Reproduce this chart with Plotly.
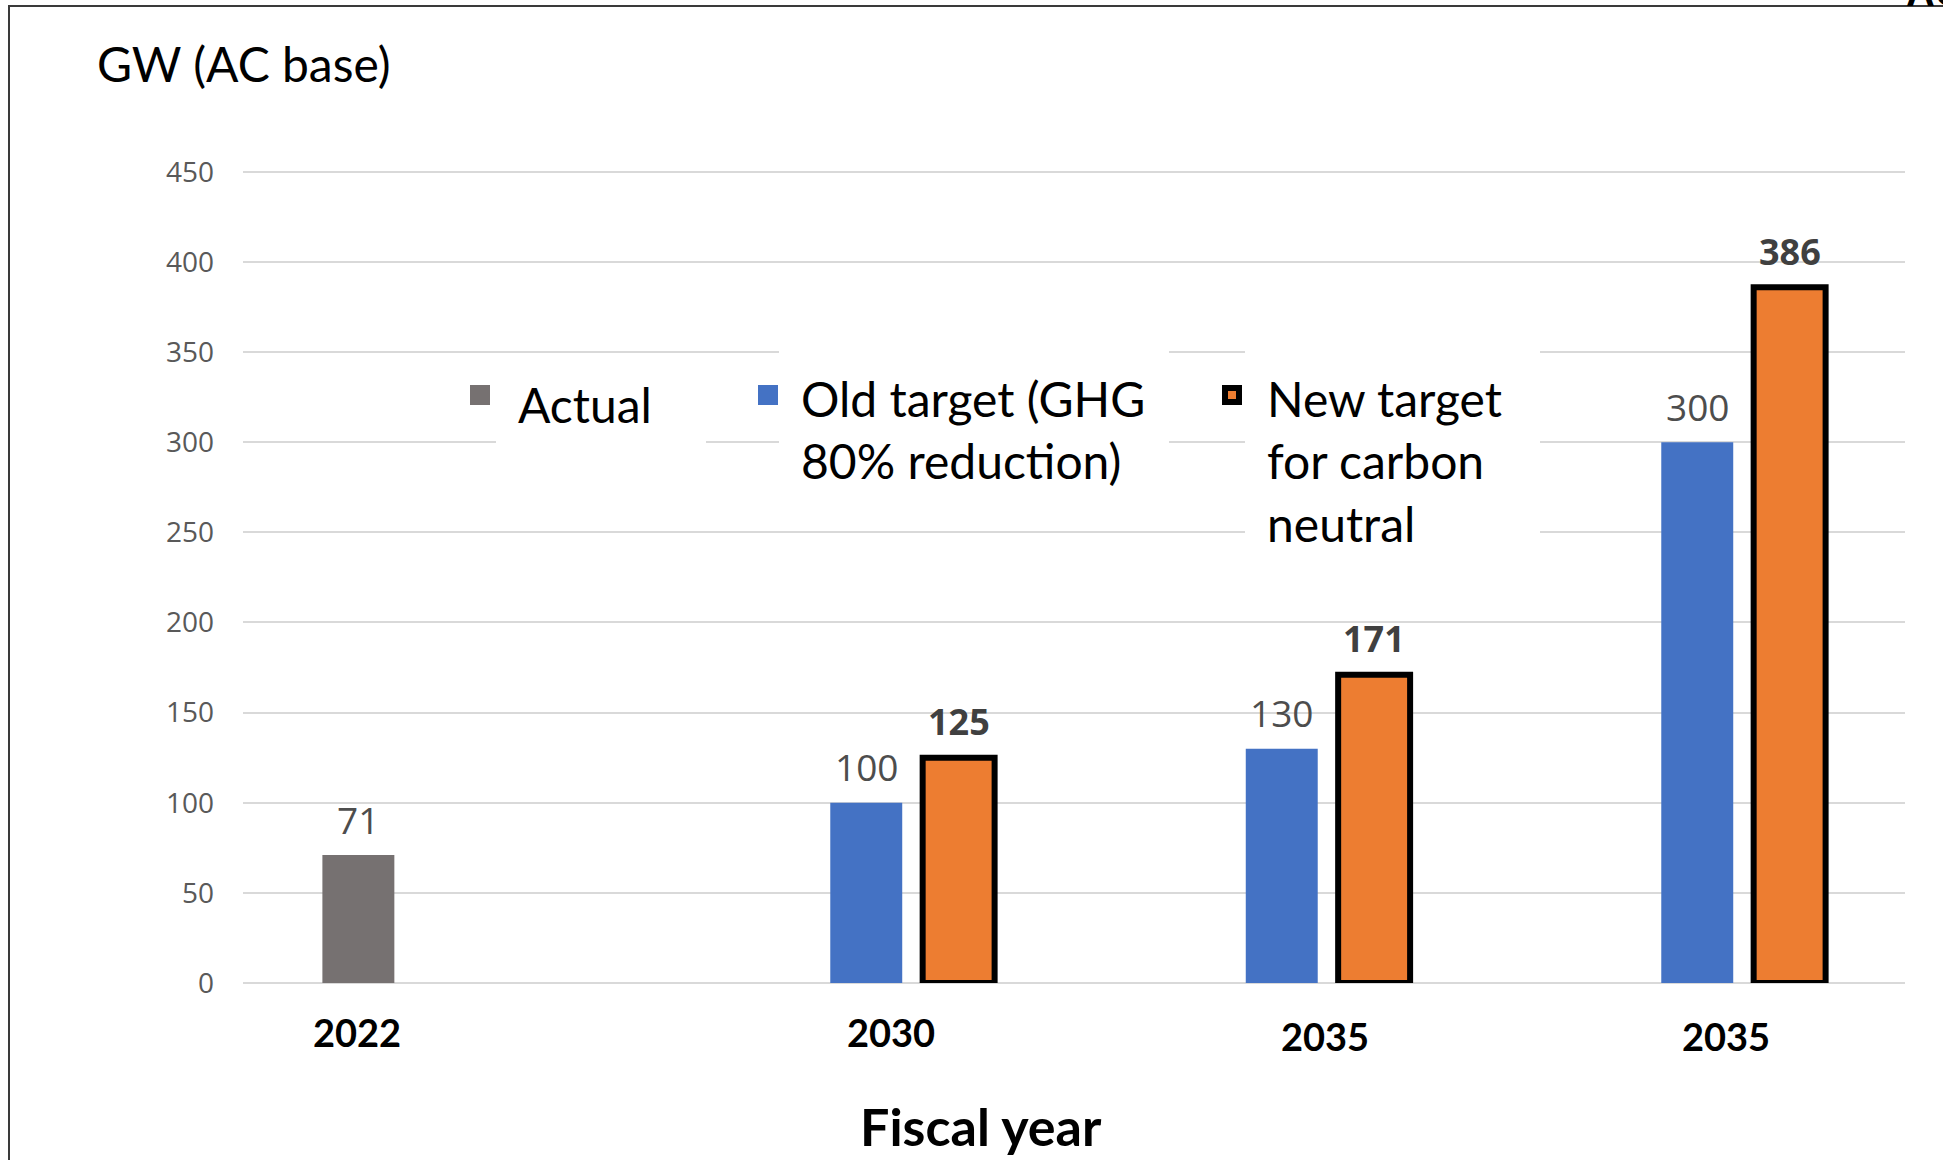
import plotly.graph_objects as go

# ---- data ----
years = ["2022", "2030", "2035", "2035"]
actual = [71, None, None, None]
old_target = [None, 100, 130, 300]
new_target = [None, 125, 171, 386]
series_names = [
    "Actual",
    "Old target (GHG<br>80% reduction)",
    "New target<br>for carbon<br>neutral",
]
y_ticks = [0, 50, 100, 150, 200, 250, 300, 350, 400, 450]

# ---- geometry (pixels on the canvas) ----
W, H = 1943, 1160
L, R, T, B = 243, 1905, 170, 983
Y_MAX = 451

BARGAP = 0.333
GROUPGAP = 0.221
SLOT = (1 - BARGAP) / 3

GREY = "#767171"
BLUE = "#4472C4"
ORANGE = "#ED7D31"
GRID = "#d9d9d9"

TEXT_FONT = "Lato, 'Open Sans', sans-serif"
NUM_FONT = "'Open Sans', 'Noto Sans', sans-serif"


def px_x(p):
    return (p - L) / (R - L)


def px_y(p):
    return (B - p) / (B - T)


x = list(range(len(years)))

fig = go.Figure()
fig.add_bar(x=x, y=actual, name="Actual", marker=dict(color=GREY, line=dict(width=0)))
fig.add_bar(x=x, y=old_target, name="Old target", marker=dict(color=BLUE, line=dict(width=0)))
fig.add_bar(x=x, y=new_target, name="New target",
            marker=dict(color=ORANGE, line=dict(color="black", width=6)))

annotations = []

# value labels above each bar
for s, values in enumerate([actual, old_target, new_target]):
    bold = s == 2
    for i, v in enumerate(values):
        if v is None:
            continue
        annotations.append(dict(
            x=i + (s - 1) * SLOT, y=v, xref="x", yref="y",
            text=f"<b>{v}</b>" if bold else str(v),
            showarrow=False, xanchor="center", yanchor="middle", yshift=36,
            font=dict(family=NUM_FONT, size=36 if bold else 37,
                      color="#404040" if bold else "#4d4d4d"),
        ))

# year labels under the groups
year_label_px = [(357, 1032), (891, 1032), (1325, 1036), (1726, 1036)]
for lab, (lx, ly) in zip(years, year_label_px):
    annotations.append(dict(
        x=px_x(lx), y=px_y(ly), xref="paper", yref="paper",
        text=f"<b>{lab}</b>", showarrow=False, xanchor="center", yanchor="middle",
        font=dict(family=TEXT_FONT, size=38, color="black"),
    ))

# axis titles
annotations.append(dict(
    x=px_x(981), y=px_y(1126), xref="paper", yref="paper",
    text="<b>Fiscal year</b>", showarrow=False, xanchor="center", yanchor="middle",
    font=dict(family=TEXT_FONT, size=52, color="black"),
))
annotations.append(dict(
    x=px_x(95), y=px_y(64), xref="paper", yref="paper",
    text="GW (AC base)", showarrow=False, xanchor="left", yanchor="middle",
    font=dict(family=TEXT_FONT, size=48, color="black"),
))
annotations.append(dict(
    x=px_x(1904), y=px_y(16), xref="paper", yref="paper",
    text="<b>AC</b>", showarrow=False, xanchor="left", yanchor="bottom",
    font=dict(family="'Liberation Sans', Arial, sans-serif", size=40, color="black"),
))

# legend: white panels, swatches and labels
shapes = []
legend_boxes = [(496, 368, 706, 462), (779, 345, 1169, 498), (1245, 345, 1540, 562)]
for x0, y0, x1, y1 in legend_boxes:
    shapes.append(dict(type="rect", xref="paper", yref="paper",
                       x0=px_x(x0), x1=px_x(x1), y0=px_y(y1), y1=px_y(y0),
                       fillcolor="white", line=dict(width=0), layer="above"))

swatch_centers = [(480, 395), (768, 395), (1232, 395)]
for k, (cx, cy) in enumerate(swatch_centers):
    if k < 2:
        half = 10
        shapes.append(dict(type="rect", xref="paper", yref="paper",
                           x0=px_x(cx - half), x1=px_x(cx + half),
                           y0=px_y(cy + half), y1=px_y(cy - half),
                           fillcolor=[GREY, BLUE][k], line=dict(width=0), layer="above"))
    else:
        half = 7
        shapes.append(dict(type="rect", xref="paper", yref="paper",
                           x0=px_x(cx - half), x1=px_x(cx + half),
                           y0=px_y(cy + half), y1=px_y(cy - half),
                           fillcolor=ORANGE, line=dict(color="black", width=6), layer="above"))

legend_text_px = [(516, 404, "middle"), (799, 368, "top"), (1265, 368, "top")]
for name, (tx, ty, anchor) in zip(series_names, legend_text_px):
    annotations.append(dict(
        x=px_x(tx), y=px_y(ty), xref="paper", yref="paper",
        text=name, showarrow=False, xanchor="left", yanchor=anchor, align="left",
        font=dict(family=TEXT_FONT, size=48, color="black"),
    ))

# outer frame of the figure
shapes.append(dict(type="rect", xref="paper", yref="paper",
                   x0=px_x(9), x1=px_x(2100), y0=px_y(1300), y1=px_y(6),
                   fillcolor="rgba(0,0,0,0)", line=dict(color="#3a3a3a", width=2),
                   layer="above"))

fig.update_layout(
    width=W, height=H,
    margin=dict(l=L, r=W - R, t=T, b=H - B, pad=0),
    paper_bgcolor="white", plot_bgcolor="white",
    barmode="group", bargap=BARGAP, bargroupgap=GROUPGAP,
    showlegend=False,
    annotations=annotations, shapes=shapes,
    xaxis=dict(range=[-0.5, len(years) - 0.5], showticklabels=False, showgrid=False,
               zeroline=False, showline=False, ticks="", fixedrange=True),
    yaxis=dict(range=[0, Y_MAX], tickvals=y_ticks, showgrid=True, gridcolor=GRID, gridwidth=2,
               zeroline=True, zerolinecolor=GRID, zerolinewidth=2, showline=False,
               ticks="", ticklabelstandoff=28,
               tickfont=dict(family=NUM_FONT, size=28, color="#595959")),
)

fig.write_html("out.html")
